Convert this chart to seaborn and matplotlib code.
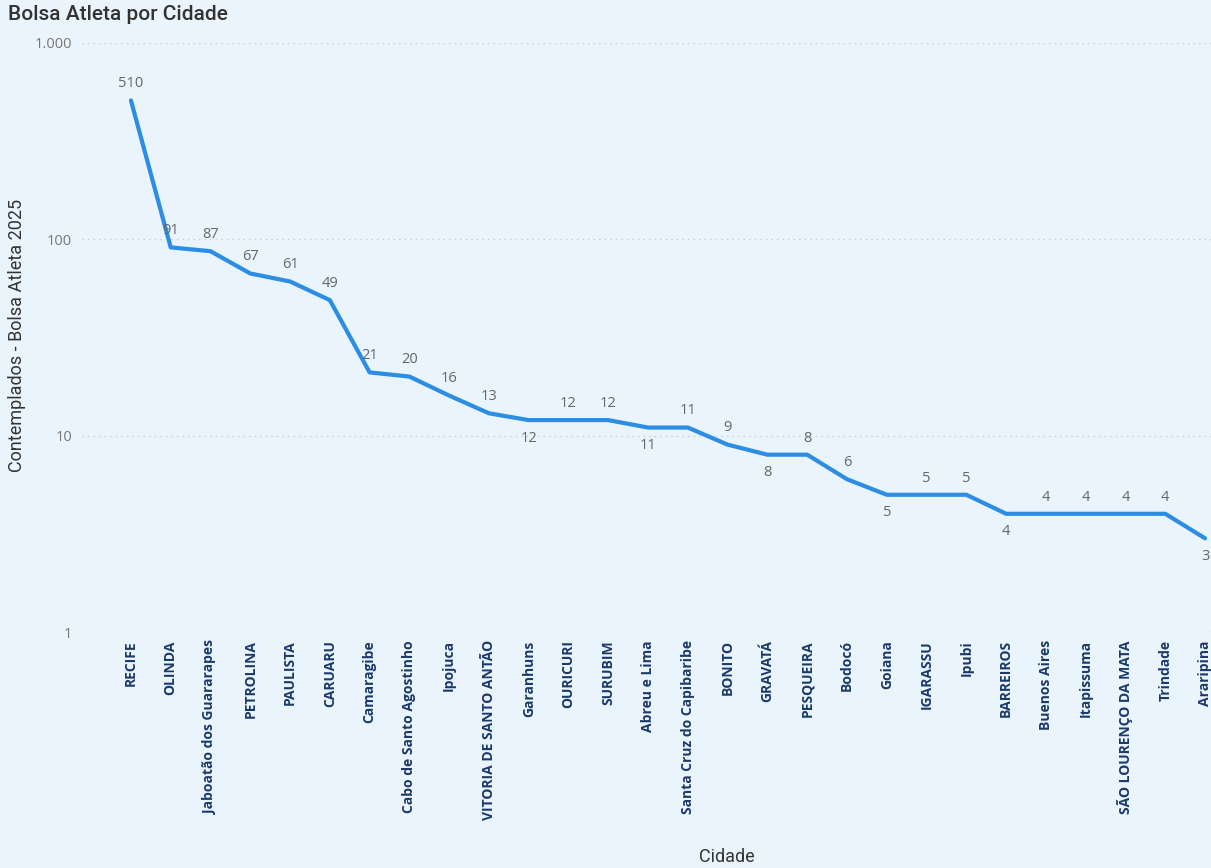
import matplotlib
matplotlib.use("Agg")
from matplotlib import pyplot as plt
import seaborn as sb
import pandas as pd

# values
cidades = ["RECIFE", "OLINDA", "Jaboatão dos Guararapes", "PETROLINA", "PAULISTA",
           "CARUARU", "Camaragibe", "Cabo de Santo Agostinho", "Ipojuca",
           "VITORIA DE SANTO ANTÃO", "Garanhuns", "OURICURI", "SURUBIM", "Abreu e Lima",
           "Santa Cruz do Capibaribe", "BONITO", "GRAVATÁ", "PESQUEIRA", "Bodocó", "Goiana",
           "IGARASSU", "Ipubi", "BARREIROS", "Buenos Aires", "Itapissuma",
           "SÃO LOURENÇO DA MATA", "Trindade", "Araripina"]
contemplados = [510, 91, 87, 67, 61, 49, 21, 20, 16, 13, 12, 12, 12, 11, 11, 9, 8, 8,
                6, 5, 5, 5, 4, 4, 4, 4, 4, 3]
# cities whose data label sits under the line
abaixo = ["Garanhuns", "Abreu e Lima", "GRAVATÁ", "Goiana", "BARREIROS", "Araripina"]
y_ticks = [1, 10, 100, 1000]
y_ticklabels = ["1", "10", "100", "1.000"]

df = pd.DataFrame({"Cidade": cidades, "Contemplados": contemplados})

bg = "#EAF4FC"
sb.set_theme(style="white")
plt.rcParams["font.family"] = ["Open Sans", "DejaVu Sans"]

fig = plt.figure(figsize=(12.11, 8.68), dpi=100, facecolor=bg)
ax = fig.add_axes([82 / 1211, 1 - 632 / 868, 1 - 82 / 1211, (632 - 43) / 868])
ax.set_facecolor(bg)

sb.lineplot(data=df, x="Cidade", y="Contemplados", sort=False, color="#2B8DE3",
            linewidth=3, ax=ax)
ax.set_yscale("log")
ax.set_ylim(1, 1000)
n = len(cidades)
ax.set_xlim(-1.23, (1211 - 131) / 39.78)

ax.set_yticks(y_ticks)
ax.set_yticklabels(y_ticklabels, color="#777777", fontsize=10.5)
ax.yaxis.set_minor_locator(matplotlib.ticker.NullLocator())
for t in y_ticks:
    ax.axhline(t, color="#C8CDD2", linestyle=(0, (1, 3)), linewidth=1, zorder=0)

ax.set_xticks(range(n))
ax.set_xticklabels(cidades, rotation=90, fontsize=10, fontweight="bold", color="#1B3A6B")
ax.tick_params(axis="both", length=0)
ax.tick_params(axis="x", pad=6)
ax.tick_params(axis="y", pad=7)

for s in ax.spines.values():
    s.set_visible(False)

for i, (c, v) in enumerate(zip(cidades, contemplados)):
    dy = -13 if c in abaixo else 12
    ax.annotate(str(v), (i, v), xytext=(0, dy), textcoords="offset points",
                ha="center", va="center", fontsize=10.5, color="#666666")

ax.set_ylabel("")
ax.set_xlabel("")
fig.text(17 / 1211, 1 - 335 / 868, "Contemplados - Bolsa Atleta 2025", rotation=90,
         ha="center", va="center", fontsize=13, color="#333333",
         family=["Roboto", "DejaVu Sans"])
fig.text(727 / 1211, 1 - 857 / 868, "Cidade", ha="center", va="center", fontsize=13,
         color="#333333", family=["Roboto", "DejaVu Sans"])
fig.text(8 / 1211, 1 - 14 / 868, "Bolsa Atleta por Cidade", ha="left", va="center",
         fontsize=15, fontweight="medium", color="#333333", family=["Roboto", "DejaVu Sans"])

fig.savefig("out.png", dpi=100, facecolor=bg)
